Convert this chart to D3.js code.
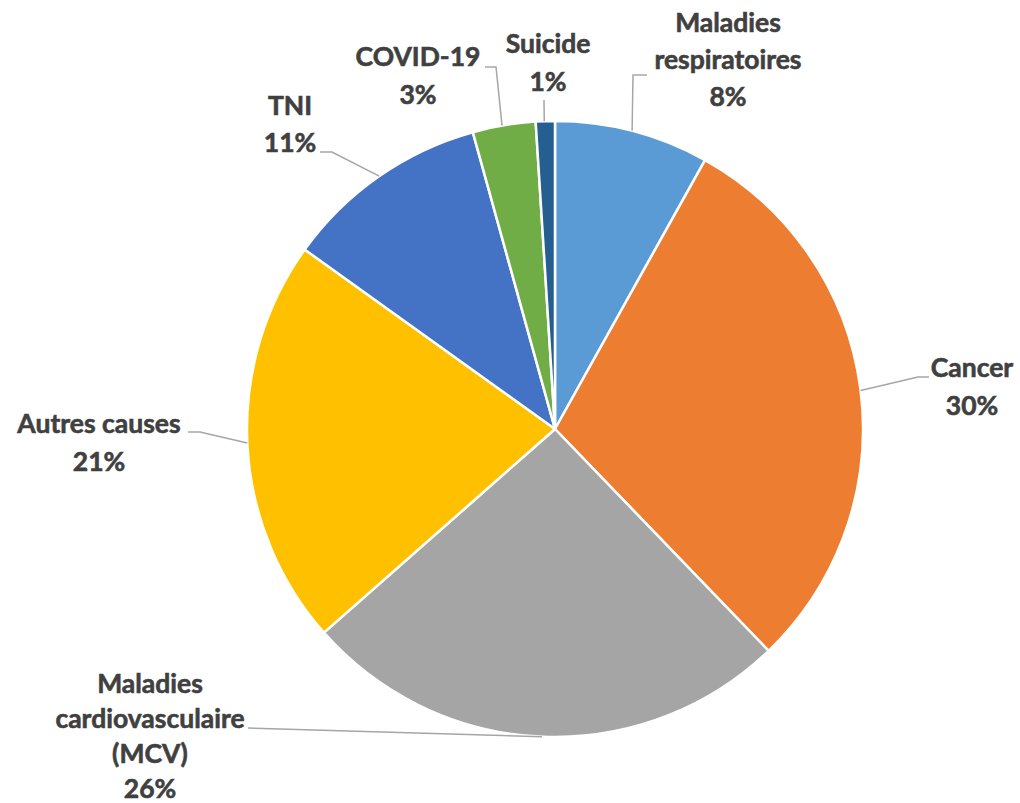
<!DOCTYPE html>
<html><head><meta charset="utf-8">
<script src="https://cdn.jsdelivr.net/npm/d3@7/dist/d3.min.js"></script>
<style>body{margin:0;background:#fff}</style></head>
<body><svg id="c" width="1020" height="803"></svg>
<script>
const categories = ["Maladies respiratoires","Cancer","Maladies cardiovasculaire (MCV)","Autres causes","TNI","COVID-19","Suicide"];
const values = [8.1, 29.7, 25.7, 21.4, 10.8, 3.3, 1.0];
const colors = ["#5b9bd5","#ed7d31","#a5a5a5","#ffc000","#4472c4","#70ad47","#255e91"];
const labelLines = [["Maladies","respiratoires"],["Cancer"],["Maladies","cardiovasculaire","(MCV)"],["Autres causes"],["TNI"],["COVID-19"],["Suicide"]];

// layout (label placement, leader lines)
const layout = [
  {x:728, y:32, dy:37, leadAng:14.5, pts:[[633,75],[647,75]]},
  {x:972, y:377, dy:38, leadAng:82.8, pts:[[918,377],[929,377]]},
  {x:150, y:693, dy:35, leadAng:182.4, pts:[[248,728]]},
  {x:99, y:433, dy:38, leadAng:267.4, pts:[[200,432],[188,432]]},
  {x:290, y:115, dy:37, leadAng:325.2, pts:[[332,152],[320,152]]},
  {x:418, y:66, dy:38, leadAng:350.1, pts:[[496,67],[485,67]]},
  {x:548, y:53, dy:38, leadAng:358, pts:[[544,100]]}
];

const svg = d3.select("#c");
const cx = 555, cy = 429, r = 308;
const g = svg.append("g").attr("transform",`translate(${cx},${cy})`);
const pie = d3.pie().sort(null).value(d=>d)(values);
const arc = d3.arc().innerRadius(0).outerRadius(r);
g.selectAll("path").data(pie).join("path")
  .attr("d",arc).attr("fill",(d,i)=>colors[i])
  .attr("stroke","#fff").attr("stroke-width",2.5).attr("stroke-linejoin","round");

const total = d3.sum(values);
layout.forEach((L,i)=>{
  const a = L.leadAng*Math.PI/180;
  const p0 = [cx + r*Math.sin(a), cy - r*Math.cos(a)];
  const pts = [p0, ...L.pts];
  svg.append("path").attr("d", d3.line()(pts))
    .attr("fill","none").attr("stroke","#a6a6a6").attr("stroke-width",1.5);
  const lines = [...labelLines[i], Math.round(values[i]/total*100)+"%"];
  const t = svg.append("text").attr("text-anchor","middle")
    .attr("font-family","Lato, 'Open Sans', sans-serif").attr("font-weight","bold")
    .attr("font-size",26.5).attr("fill","#404040")
    .attr("stroke","#404040").attr("stroke-width",0.6);
  lines.forEach((s,j)=>t.append("tspan").attr("x",L.x).attr("y",L.y+j*L.dy).text(s));
});
</script></body></html>
